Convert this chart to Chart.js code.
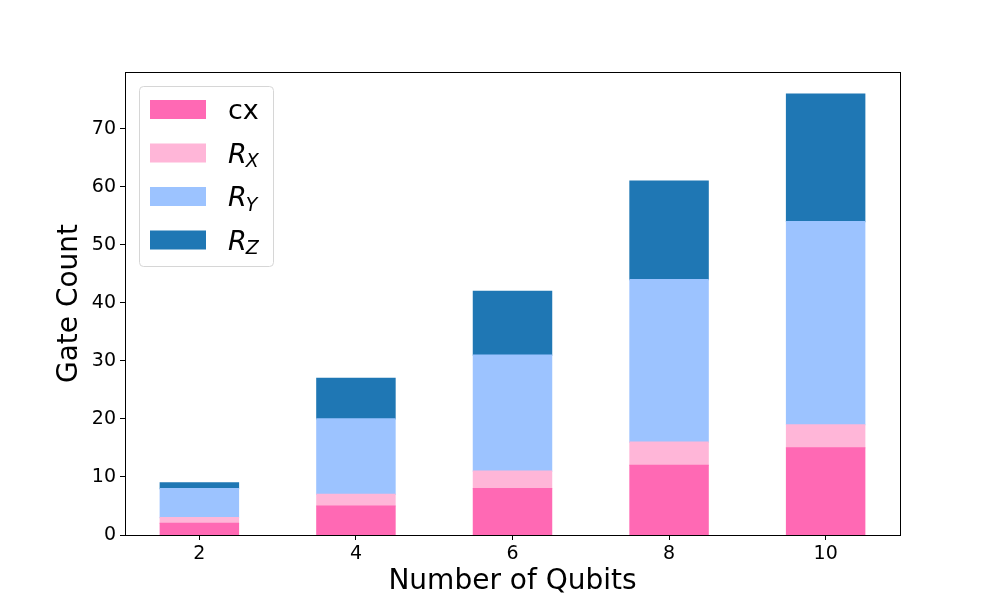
<!DOCTYPE html>
<html>
<head>
<meta charset="utf-8">
<script src="https://cdn.jsdelivr.net/npm/chart.js@4"></script>
<style>
  html, body { margin: 0; padding: 0; background: #fff; }
  #wrap { width: 1000px; height: 600px; }
</style>
</head>
<body>
<div id="wrap"><canvas id="chart" width="1000" height="600"></canvas></div>
<script>
// gate counts per qubit number
const qubits = ["2", "4", "6", "8", "10"];
const cxCounts = [2, 5, 8, 12, 15];
const rxCounts = [1, 2, 3, 4, 4];
const ryCounts = [5, 13, 20, 28, 35];
const rzCounts = [1, 7, 11, 17, 22];

const seriesNames = [["cx", ""], ["R", "X"], ["R", "Y"], ["R", "Z"]];
const colors = ["#ff69b4", "#ffb6d8", "#9cc3ff", "#1f77b4"];
const yTicks = [0, 10, 20, 30, 40, 50, 60, 70];

const FONT = "'DejaVu Sans', sans-serif";

function pts(arr){ return arr.map((v, i) => ({ x: i, y: v })); }

// top/right spine + legend with subscripts
const framePlugin = {
  id: "frame",
  afterDraw(chart){
    const { ctx, chartArea: a } = chart;
    ctx.save();
    ctx.strokeStyle = "#000";
    ctx.lineWidth = 1;
    ctx.strokeRect(a.left + 0.5, a.top + 0.5, a.right - a.left, a.bottom - a.top);

    // legend box
    const bx = 139.5, by = 86.5, bw = 134, bh = 180, r = 4;
    ctx.beginPath();
    ctx.moveTo(bx + r, by);
    ctx.arcTo(bx + bw, by, bx + bw, by + bh, r);
    ctx.arcTo(bx + bw, by + bh, bx, by + bh, r);
    ctx.arcTo(bx, by + bh, bx, by, r);
    ctx.arcTo(bx, by, bx + bw, by, r);
    ctx.closePath();
    ctx.fillStyle = "rgba(255,255,255,0.8)";
    ctx.fill();
    ctx.strokeStyle = "#d6d6d6";
    ctx.stroke();

    seriesNames.forEach((nm, i) => {
      const y0 = 100 + i * 43.5;
      ctx.fillStyle = colors[i];
      ctx.fillRect(150, y0, 56, 19);
      ctx.fillStyle = "#000";
      ctx.textBaseline = "alphabetic";
      ctx.textAlign = "left";
      const base = y0 + 19;
      if (!nm[1]){
        ctx.font = "27px " + FONT;
        ctx.fillText(nm[0], 228, base);
      } else {
        ctx.font = "italic 27px " + FONT;
        ctx.fillText(nm[0], 228, base);
        const w = ctx.measureText(nm[0]).width;
        ctx.font = "italic 19px " + FONT;
        ctx.fillText(nm[1], 228 + w - 1, base + 4.5);
      }
    });
    ctx.restore();
  }
};

new Chart(document.getElementById("chart"), {
  type: "bar",
  data: {
    datasets: [
      { label: "cx", data: pts(cxCounts), backgroundColor: colors[0] },
      { label: "R_X", data: pts(rxCounts), backgroundColor: colors[1] },
      { label: "R_Y", data: pts(ryCounts), backgroundColor: colors[2] },
      { label: "R_Z", data: pts(rzCounts), backgroundColor: colors[3] }
    ]
  },
  options: {
    responsive: false,
    animation: false,
    categoryPercentage: 1,
    barPercentage: 0.5,
    datasets: { bar: { borderWidth: 0, inflateAmount: 0.6 } },
    layout: { padding: { top: 72, right: 100, left: 0, bottom: 0 } },
    plugins: { legend: { display: false }, tooltip: { enabled: false } },
    scales: {
      x: {
        type: "linear",
        stacked: true,
        offset: false,
        min: -0.475,
        max: 4.475,
        afterFit(s){ s.height = 65; },
        afterBuildTicks(s){ s.ticks = qubits.map((q, i) => ({ value: i })); },
        grid: { display: true, offset: false, drawOnChartArea: false, drawTicks: true, tickLength: 5, color: "#000" },
        border: { display: true, color: "#000" },
        ticks: {
          includeBounds: false,
          padding: 3,
          color: "#000",
          font: { family: FONT, size: 19 },
          maxRotation: 0,
          callback: (v) => qubits[v]
        },
        title: {
          display: true,
          text: "Number of Qubits",
          color: "#000",
          font: { family: FONT, size: 28 },
          padding: { top: 0, bottom: 1 }
        }
      },
      y: {
        stacked: true,
        min: 0,
        max: 79.8,
        afterFit(s){ s.width = 125; },
        afterBuildTicks(s){ s.ticks = yTicks.map(v => ({ value: v })); },
        grid: { display: true, drawOnChartArea: false, drawTicks: true, tickLength: 5, color: "#000" },
        border: { display: true, color: "#000" },
        ticks: {
          includeBounds: false,
          padding: 4,
          color: "#000",
          font: { family: FONT, size: 19 }
        },
        title: {
          display: true,
          text: "Gate Count",
          color: "#000",
          font: { family: FONT, size: 28 },
          padding: { top: 53, bottom: 0 }
        }
      }
    }
  },
  plugins: [framePlugin]
});
</script>
</body>
</html>
